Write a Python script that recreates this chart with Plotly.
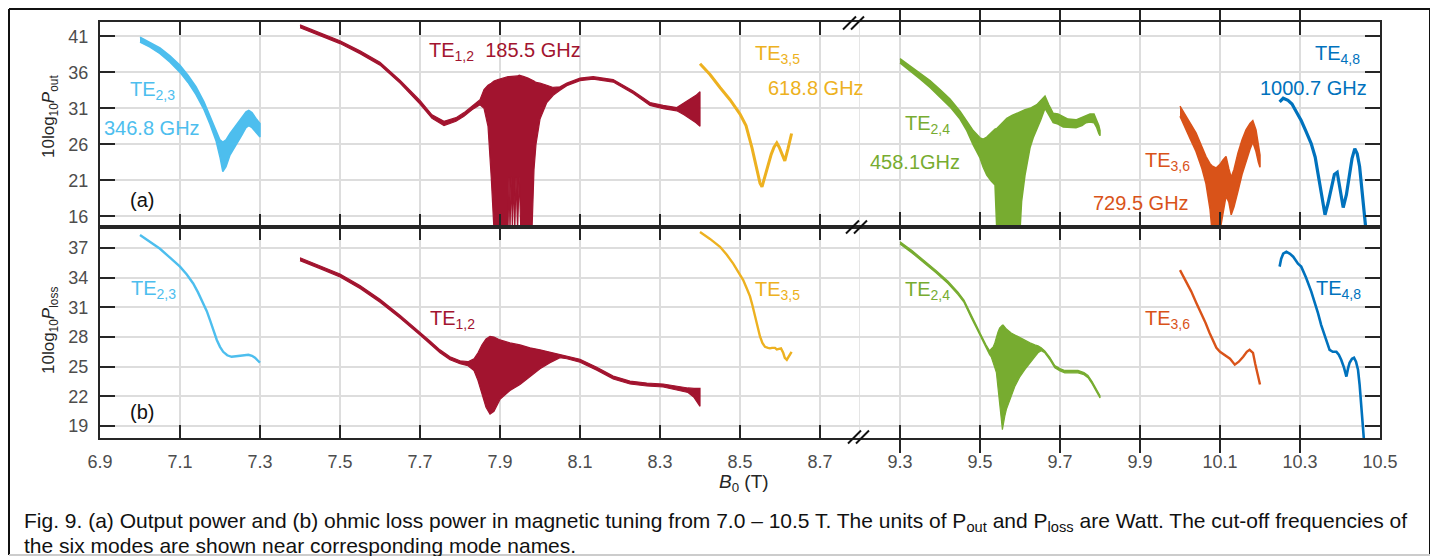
import plotly.graph_objects as go

# ---------------- colours (MATLAB palette) ----------------
C23 = "#4DBEEE"; C12 = "#A2142F"; C35 = "#EDB120"
C24 = "#77AC30"; C36 = "#D95319"; C48 = "#0072BD"

# ---------------- axis ticks ----------------
xticks_left = [6.9, 7.1, 7.3, 7.5, 7.7, 7.9, 8.1, 8.3, 8.5, 8.7]
xticks_right = [9.3, 9.5, 9.7, 9.9, 10.1, 10.3, 10.5]
yticks_top = [16, 21, 26, 31, 36, 41]
yticks_bot = [19, 22, 25, 28, 31, 34, 37]

# ---------------- (a) output power, dB ----------------
# TE2,3 (band: upper / lower envelope)
x23a = [7.0, 7.025, 7.05, 7.075, 7.1, 7.12, 7.14, 7.16, 7.175, 7.19, 7.2, 7.207, 7.215, 7.225, 7.24, 7.255, 7.265, 7.272, 7.28, 7.29, 7.3]
up23a = [40.9, 40.2, 39.4, 38.3, 37.0, 35.6, 34.0, 31.9, 30.0, 27.9, 26.6, 26.3, 26.6, 27.5, 28.6, 29.8, 30.5, 30.7, 30.4, 29.6, 28.9]
lo23a = [40.2, 39.5, 38.6, 37.4, 36.0, 34.6, 32.9, 30.8, 28.8, 26.5, 24.2, 22.2, 22.9, 24.5, 25.8, 27.3, 28.3, 28.6, 28.3, 27.6, 27.0]

# TE1,2 (band)
x12a = [7.40, 7.45, 7.50, 7.55, 7.60, 7.65, 7.70, 7.73, 7.76, 7.79, 7.81, 7.83, 7.85, 7.86, 7.87, 7.878,
        7.885, 7.895, 7.905, 7.915, 7.92, 7.9225, 7.925, 7.928, 7.931, 7.934, 7.937, 7.94, 7.944, 7.948,
        7.952, 7.96, 7.97, 7.98, 7.985, 7.99, 8.0, 8.017, 8.033, 8.05, 8.067, 8.10, 8.133, 8.183,
        8.233, 8.275, 8.308, 8.342, 8.36, 8.375, 8.39, 8.40]
up12a = [42.6, 41.5, 40.4, 39.0, 37.4, 34.9, 32.1, 30.1, 29.2, 29.7, 30.4, 31.3, 32.2, 33.6, 34.2, 34.5,
         34.8, 35.0, 35.2, 35.3, 35.4, 35.4, 35.4, 35.5, 35.5, 35.5, 35.5, 35.5, 35.5, 35.6,
         35.5, 35.4, 35.2, 35.0, 34.8, 34.6, 34.5, 34.2, 33.9, 34.0, 34.5, 35.2, 35.4, 35.0,
         33.4, 31.8, 31.4, 31.1, 31.7, 32.3, 32.8, 33.3]
lo12a = [42.2, 41.1, 40.0, 38.6, 37.0, 34.5, 31.6, 29.6, 28.6, 29.2, 29.9, 30.8, 31.5, 31.0, 28.5, 21.5,
         14.0, 14.0, 14.0, 14.0, 14.0, 21.5, 14.0, 21.5, 14.0, 21.5, 14.0, 21.5, 14.0, 21.5,
         14.0, 14.0, 14.0, 14.0, 22.5, 26.0, 29.5, 31.8, 32.8, 33.5, 34.15, 34.85, 35.05, 34.65,
         33.05, 31.4, 30.95, 30.65, 30.1, 29.6, 29.0, 28.5]

# TE3,5 (line)
x35a = [8.40, 8.425, 8.45, 8.475, 8.50, 8.515, 8.53, 8.542, 8.55, 8.555, 8.562, 8.57, 8.578, 8.585, 8.592, 8.598, 8.605, 8.612, 8.62, 8.629]
y35a = [37.2, 35.7, 33.9, 32.2, 30.2, 28.6, 25.5, 22.4, 20.6, 20.1, 21.5, 23.3, 24.6, 25.6, 26.2, 25.6, 24.6, 23.7, 25.4, 27.5]

# TE2,4 (band)
x24a = [9.30, 9.325, 9.35, 9.375, 9.40, 9.425, 9.45, 9.467, 9.483, 9.50, 9.508, 9.517, 9.528, 9.5375, 9.542, 9.555,
        9.567, 9.58, 9.60, 9.604, 9.6125, 9.625, 9.633, 9.642, 9.652, 9.6625, 9.672, 9.683, 9.695, 9.708, 9.72,
        9.74, 9.755, 9.765, 9.775, 9.785, 9.792, 9.797, 9.80]
up24a = [37.9, 36.9, 35.9, 34.85, 33.6, 32.3, 30.6, 29.2, 27.9, 26.9, 26.7, 27.0, 27.6, 28.1, 28.2, 28.9,
         29.6, 30.0, 30.5, 30.6, 30.8, 31.0, 31.2, 31.5, 32.1, 32.7, 31.5, 30.3, 30.2, 29.8, 29.5,
         29.4, 29.7, 30.0, 30.2, 30.2, 29.4, 28.6, 27.9]
lo24a = [37.3, 36.2, 35.1, 33.9, 32.6, 31.2, 29.5, 27.9, 25.9, 24.1, 22.8, 21.7, 20.9, 20.35, 14.0, 14.0,
         14.0, 14.0, 14.0, 18.05, 21.7, 25.5, 26.9, 28.2, 29.4, 31.0, 30.1, 29.0, 28.8, 28.4, 28.3,
         28.3, 28.6, 29.0, 29.1, 29.0, 28.3, 27.5, 27.2]

# TE3,6 (band)
x36a = [10.0, 10.012, 10.025, 10.04, 10.055, 10.065, 10.075, 10.08, 10.09, 10.1, 10.107, 10.115, 10.122, 10.128, 10.135, 10.145, 10.155, 10.165, 10.175, 10.182, 10.19, 10.196, 10.2]
up36a = [31.3, 30.2, 29.1, 27.6, 25.6, 24.3, 23.3, 23.0, 22.7, 23.2, 23.8, 24.3, 22.6, 21.4, 22.5, 24.8, 26.6, 28.0, 28.9, 29.3, 28.0, 26.0, 24.5]
lo36a = [29.9, 28.5, 26.8, 25.0, 22.6, 20.5, 17.0, 14.0, 14.0, 14.0, 16.5, 18.8, 18.0, 16.2, 17.3, 19.5, 21.8, 23.6, 25.3, 26.3, 25.0, 23.5, 22.8]

# TE4,8 (line)
x48a = [10.249, 10.258, 10.27, 10.28, 10.29, 10.303, 10.315, 10.328, 10.338, 10.345, 10.353, 10.3625, 10.37, 10.378,
        10.386, 10.393, 10.40, 10.408, 10.416, 10.424, 10.43, 10.437, 10.443, 10.449, 10.455, 10.46, 10.465]
y48a = [31.9, 32.4, 32.1, 31.6, 30.6, 29.3, 27.8, 26.1, 24.2, 22.0, 19.5, 16.2, 17.8, 20.0,
        21.8, 22.1, 19.5, 17.2, 19.0, 22.0, 24.0, 25.4, 24.7, 22.9, 19.5, 16.5, 14.0]

# ---------------- (b) ohmic loss, dB ----------------
x23b = [7.0, 7.025, 7.05, 7.075, 7.1, 7.117, 7.133, 7.145, 7.158, 7.167, 7.175, 7.183, 7.192, 7.2, 7.208, 7.218, 7.229, 7.24, 7.25, 7.26, 7.271, 7.28, 7.2875, 7.295, 7.3]
y23b = [38.3, 37.6, 36.9, 36.0, 35.1, 34.3, 33.4, 32.5, 31.4, 30.6, 29.7, 28.7, 27.7, 27.0, 26.5, 26.15, 26.0, 26.05, 26.1, 26.2, 26.2, 26.1, 25.9, 25.6, 25.4]

x12b = [7.40, 7.45, 7.50, 7.55, 7.60, 7.65, 7.70, 7.725, 7.75, 7.775, 7.80, 7.82, 7.835, 7.845, 7.855, 7.865, 7.875, 7.885,
        7.90, 7.925, 7.95, 7.975, 8.00, 8.025, 8.05, 8.067, 8.10, 8.142, 8.183, 8.225, 8.267, 8.308, 8.35, 8.37, 8.385, 8.395, 8.40]
up12b = [36.0, 35.2, 34.35, 33.2, 31.8, 30.2, 28.5, 27.6, 26.7, 26.0, 25.6, 25.5, 25.8, 26.4, 27.2, 27.8, 28.05, 28.0,
         27.7, 27.4, 27.2, 26.9, 26.7, 26.45, 26.2, 26.1, 25.75, 24.95, 24.05, 23.55, 23.35, 23.25, 22.95, 22.85, 22.8, 22.8, 22.8]
lo12b = [35.7, 34.9, 34.05, 32.9, 31.5, 29.9, 28.2, 27.3, 26.4, 25.7, 25.3, 25.1, 24.6, 23.6, 22.2, 20.9, 20.2, 20.5,
         21.7, 22.6, 23.2, 24.0, 24.8, 25.4, 25.9, 25.8, 25.45, 24.65, 23.75, 23.25, 23.05, 22.95, 22.6, 22.4, 21.9, 21.3, 21.0]

x35b = [8.40, 8.425, 8.45, 8.467, 8.483, 8.495, 8.508, 8.517, 8.525, 8.531, 8.5375, 8.544, 8.55, 8.556, 8.5625, 8.57,
        8.575, 8.58, 8.5875, 8.592, 8.596, 8.6025, 8.608, 8.612, 8.617, 8.622, 8.629]
y35b = [38.6, 37.9, 37.1, 36.3, 35.4, 34.6, 33.75, 32.9, 32.1, 31.2, 30.1, 29.0, 28.05, 27.4, 27.0, 26.9,
        26.85, 26.9, 26.9, 26.75, 26.8, 26.85, 26.4, 25.9, 25.7, 26.0, 26.5]

x24b = [9.30, 9.33, 9.36, 9.39, 9.42, 9.445, 9.46, 9.478, 9.49, 9.503, 9.515, 9.524, 9.528, 9.533, 9.537, 9.541, 9.545,
        9.549, 9.553, 9.556, 9.558, 9.562, 9.566, 9.578, 9.587, 9.6, 9.612, 9.625, 9.637, 9.645, 9.653, 9.662, 9.675,
        9.687, 9.7, 9.712, 9.73, 9.745, 9.76, 9.77, 9.78, 9.79, 9.8]
up24b = [37.62, 36.72, 35.72, 34.72, 33.62, 32.52, 31.72, 30.17, 29.22, 28.17, 27.22, 26.6, 26.8, 27.0, 27.4, 28.0, 28.5,
         28.9, 29.1, 29.2, 29.2, 29.0, 28.8, 28.4, 28.2, 27.9, 27.7, 27.4, 27.2, 27.1, 26.9, 26.6, 25.92,
         25.12, 24.82, 24.62, 24.62, 24.62, 24.42, 24.12, 23.52, 22.82, 22.07]
lo24b = [37.38, 36.48, 35.48, 34.48, 33.38, 32.28, 31.48, 29.93, 28.98, 27.93, 26.98, 26.2, 26.0, 25.4, 24.9, 24.4, 23.0,
         21.35, 19.8, 18.65, 19.3, 20.0, 20.7, 22.0, 23.0, 24.0, 24.7, 25.4, 26.0, 26.4, 26.6, 26.4, 25.68,
         24.88, 24.58, 24.38, 24.38, 24.38, 24.18, 23.88, 23.28, 22.58, 21.83]

x36b = [10.0, 10.014, 10.028, 10.04, 10.053, 10.064, 10.074, 10.083, 10.091, 10.1, 10.112, 10.125, 10.137, 10.147, 10.158, 10.167, 10.174, 10.1825, 10.188, 10.194, 10.2]
y36b = [34.75, 33.7, 32.6, 31.5, 30.4, 29.4, 28.4, 27.5, 26.9, 26.5, 26.2, 25.8, 25.2, 25.5, 26.0, 26.5, 26.7, 26.4, 25.3, 24.2, 23.2]

x48b = [10.249, 10.253, 10.258, 10.266, 10.275, 10.283, 10.29, 10.295, 10.303, 10.315, 10.328, 10.337, 10.345, 10.353, 10.362,
        10.368, 10.374, 10.382, 10.391, 10.397, 10.403, 10.41, 10.416, 10.42, 10.424, 10.43, 10.435, 10.44, 10.445, 10.449,
        10.453, 10.458, 10.462]
y48b = [35.1, 35.9, 36.4, 36.6, 36.4, 36.1, 35.7, 35.4, 35.1, 34.0, 32.6, 31.5, 30.4, 29.2, 28.05,
        27.3, 26.7, 26.5, 26.5, 26.2, 25.7, 24.9, 24.0, 24.8, 25.4, 25.8, 25.9, 25.5, 24.7, 23.2,
        21.35, 18.65, 16.5]

# ---------------- figure ----------------
# the page body has an 8px margin, so the figure is 8px smaller and shifted
W, H = 1430, 548
PW, PH = 1280, 416
ML, MT = 92, 14
MR, MB = W - ML - PW, H - MT - PH
XSPLIT = 760 / PW          # left axis 6.9-8.8, right axis 9.2-10.5
YSPLIT = (438 - 227) / PH  # boundary between panels

FONT = "Liberation Sans, Arial, sans-serif"
AX = "#262626"
GRID = "#dddddd"


def pxx(px):   # screen pixel -> paper x
    return (px - 100) / PW


def pyy(py):   # screen pixel -> paper y
    return (438 - py) / PH


fig = go.Figure()


def band(x, up, lo, color, xa, ya, lw=1.5):
    fig.add_trace(go.Scatter(x=list(x) + list(x)[::-1], y=list(up) + list(lo)[::-1],
                             fill="toself", fillcolor=color, mode="lines",
                             line=dict(color=color, width=lw), xaxis=xa, yaxis=ya,
                             hoverinfo="skip", showlegend=False))


def line(x, y, color, xa, ya, lw=2.5):
    fig.add_trace(go.Scatter(x=x, y=y, mode="lines", line=dict(color=color, width=lw),
                             xaxis=xa, yaxis=ya, hoverinfo="skip", showlegend=False))


# panel (a)
band(x23a, up23a, lo23a, C23, "x", "y")
band(x12a, up12a, lo12a, C12, "x", "y", lw=1.2)
line(x35a, y35a, C35, "x", "y", lw=3)
band(x24a, up24a, lo24a, C24, "x2", "y")
band(x36a, up36a, lo36a, C36, "x2", "y")
line(x48a, y48a, C48, "x2", "y", lw=3.2)
# panel (b)
line(x23b, y23b, C23, "x3", "y2", lw=2.4)
band(x12b, up12b, lo12b, C12, "x3", "y2", lw=1.2)
line(x35b, y35b, C35, "x3", "y2", lw=2.4)
band(x24b, up24b, lo24b, C24, "x4", "y2", lw=1.2)
line(x36b, y36b, C36, "x4", "y2", lw=2.4)
line(x48b, y48b, C48, "x4", "y2", lw=2.6)
# carriers for right-side mirrored y axes
fig.add_trace(go.Scatter(x=[], y=[], xaxis="x2", yaxis="y3", showlegend=False))
fig.add_trace(go.Scatter(x=[], y=[], xaxis="x4", yaxis="y4", showlegend=False))

tickfont = dict(family=FONT, size=18, color="#4d4d4d")
common_x = dict(ticks="inside", ticklen=13, tickwidth=2, tickcolor=AX, showline=True,
                linecolor=AX, linewidth=2, mirror="allticks", showgrid=True, gridcolor=GRID,
                gridwidth=2, zeroline=False, tickfont=tickfont, ticklabelstandoff=6)
common_y = dict(ticks="inside", ticklen=15, tickwidth=2, tickcolor=AX, showline=True,
                linecolor=AX, linewidth=2, showgrid=True, gridcolor=GRID, gridwidth=2,
                zeroline=False, tickfont=tickfont, ticklabelstandoff=6)

fig.update_layout(
    width=W, height=H, margin=dict(l=ML, r=MR, t=MT, b=MB),
    plot_bgcolor="white", paper_bgcolor="white", showlegend=False,
    xaxis=dict(domain=[0, XSPLIT], range=[6.9, 8.8], anchor="y", tickmode="array",
               tickvals=xticks_left, showticklabels=False, **common_x),
    xaxis2=dict(domain=[XSPLIT, 1], range=[9.2, 10.5], anchor="y", tickmode="array",
                tickvals=xticks_right, showticklabels=False, **common_x),
    xaxis3=dict(domain=[0, XSPLIT], range=[6.9, 8.8], anchor="y2", tickmode="array",
                tickvals=xticks_left, ticktext=[f"{v:.1f}" for v in xticks_left], **common_x),
    xaxis4=dict(domain=[XSPLIT, 1], range=[9.2, 10.5], anchor="y2", tickmode="array",
                tickvals=xticks_right, ticktext=[f"{v:.1f}" for v in xticks_right], **common_x),
    yaxis=dict(domain=[YSPLIT, 1], range=[14.5, 43.0], anchor="x", tickmode="array",
               tickvals=yticks_top, **common_y),
    yaxis2=dict(domain=[0, YSPLIT], range=[17.8, 39.1], anchor="x3", tickmode="array",
                tickvals=yticks_bot, **common_y),
    yaxis3=dict(overlaying="y", anchor="x2", side="right", range=[14.5, 43.0], tickmode="array",
                tickvals=yticks_top, showticklabels=False, ticks="inside", ticklen=15, tickwidth=2,
                tickcolor=AX, showline=True, linecolor=AX, linewidth=2, showgrid=False, zeroline=False),
    yaxis4=dict(overlaying="y2", anchor="x4", side="right", range=[17.8, 39.1], tickmode="array",
                tickvals=yticks_bot, showticklabels=False, ticks="inside", ticklen=15, tickwidth=2,
                tickcolor=AX, showline=True, linecolor=AX, linewidth=2, showgrid=False, zeroline=False),
)

shapes = []
# faint boundary at the axis break
for xr in ("x", "x3"):
    shapes.append(dict(type="line", xref=xr, yref=("y" if xr == "x" else "y2") + " domain",
                       x0=8.8, x1=8.8, y0=0, y1=1, line=dict(color=GRID, width=1.5), layer="below"))
# "//" break marks
for cx, cy in [(854, 23), (857, 227), (859, 437)]:
    for off in (0, 8):
        shapes.append(dict(type="line", xref="paper", yref="paper",
                           x0=pxx(cx - 11 + off), y0=pyy(cy + 6.5),
                           x1=pxx(cx + 2 + off), y1=pyy(cy - 6.5),
                           line=dict(color="#111111", width=2)))
# outer frame
FL, FT, FR, FB = 9, 9, 1430, 555
shapes += [
    dict(type="line", xref="paper", yref="paper", x0=pxx(FL), x1=pxx(FR), y0=pyy(FT), y1=pyy(FT), line=dict(color="#111111", width=2)),
    dict(type="line", xref="paper", yref="paper", x0=pxx(FL), x1=pxx(FL), y0=pyy(FT), y1=pyy(FB), line=dict(color="#111111", width=2)),
    dict(type="line", xref="paper", yref="paper", x0=pxx(FR), x1=pxx(FR), y0=pyy(FT), y1=pyy(FB), line=dict(color="#111111", width=2)),
    dict(type="line", xref="paper", yref="paper", x0=pxx(FL), x1=pxx(FR), y0=pyy(FB), y1=pyy(FB), line=dict(color="#cccccc", width=2)),
]
fig.update_layout(shapes=shapes)

ann = []


def label(text, x, y, color, xref, yref, size=20, xanchor="left"):
    ann.append(dict(text=text, x=x, y=y, xref=xref, yref=yref, showarrow=False,
                    xanchor=xanchor, yanchor="middle", font=dict(family=FONT, size=size, color=color)))


# panel (a) labels
label("TE<sub>2,3</sub>", 6.97, 33.45, C23, "x", "y")
label("346.8 GHz", 6.905, 28.3, C23, "x", "y")
label("TE<sub>1,2</sub>  185.5 GHz", 7.717, 38.9, C12, "x", "y")
label("TE<sub>3,5</sub>", 8.532, 38.45, C35, "x", "y")
label("618.8 GHz", 8.566, 33.8, C35, "x", "y")
label("TE<sub>2,4</sub>", 9.307, 28.75, C24, "x2", "y")
label("458.1GHz", 9.22, 23.5, C24, "x2", "y")
label("TE<sub>3,6</sub>", 9.907, 23.55, C36, "x2", "y")
label("729.5 GHz", 9.777, 17.9, C36, "x2", "y")
label("TE<sub>4,8</sub>", 10.332, 38.55, C48, "x2", "y")
label("1000.7 GHz", 10.195, 33.85, C48, "x2", "y")
label("(a)", 6.97, 18.2, "#111111", "x", "y")
# panel (b) labels
label("TE<sub>2,3</sub>", 6.972, 32.75, C23, "x3", "y2")
label("TE<sub>1,2</sub>", 7.72, 29.75, C12, "x3", "y2")
label("TE<sub>3,5</sub>", 8.532, 32.65, C35, "x3", "y2")
label("TE<sub>2,4</sub>", 9.307, 32.65, C24, "x4", "y2")
label("TE<sub>3,6</sub>", 9.907, 29.75, C36, "x4", "y2")
label("TE<sub>4,8</sub>", 10.335, 32.75, C48, "x4", "y2")
label("(b)", 6.97, 20.4, "#111111", "x3", "y2")

# axis titles
ann.append(dict(text="10log<sub>10</sub><i>P</i><sub>out</sub>", x=pxx(50), y=pyy(117), xref="paper", yref="paper",
                xanchor="center", yanchor="middle",
                showarrow=False, textangle=-90, font=dict(family=FONT, size=17, color="#262626")))
ann.append(dict(text="10log<sub>10</sub><i>P</i><sub>loss</sub>", x=pxx(50), y=pyy(331), xref="paper", yref="paper",
                xanchor="center", yanchor="middle",
                showarrow=False, textangle=-90, font=dict(family=FONT, size=17, color="#262626")))
ann.append(dict(text="<i>B</i><sub>0</sub> (T)", x=pxx(744), y=pyy(469), xref="paper", yref="paper",
                xanchor="center", yanchor="top",
                showarrow=False, font=dict(family=FONT, size=19, color="#262626")))
# caption
ann.append(dict(text="Fig. 9. (a) Output power and (b) ohmic loss power in magnetic tuning from 7.0 \u2013 10.5 T. "
                     "The units of P<sub>out</sub> and P<sub>loss</sub> are Watt. The cut-off frequencies of",
                x=pxx(22), y=pyy(522), xref="paper", yref="paper", showarrow=False, xanchor="left",
                yanchor="middle", font=dict(family=FONT, size=21, color="#111111")))
ann.append(dict(text="the six modes are shown near corresponding mode names.",
                x=pxx(22), y=pyy(545), xref="paper", yref="paper", showarrow=False, xanchor="left",
                yanchor="middle", font=dict(family=FONT, size=21, color="#111111")))
fig.update_layout(annotations=ann)

fig.write_html("out.html")
